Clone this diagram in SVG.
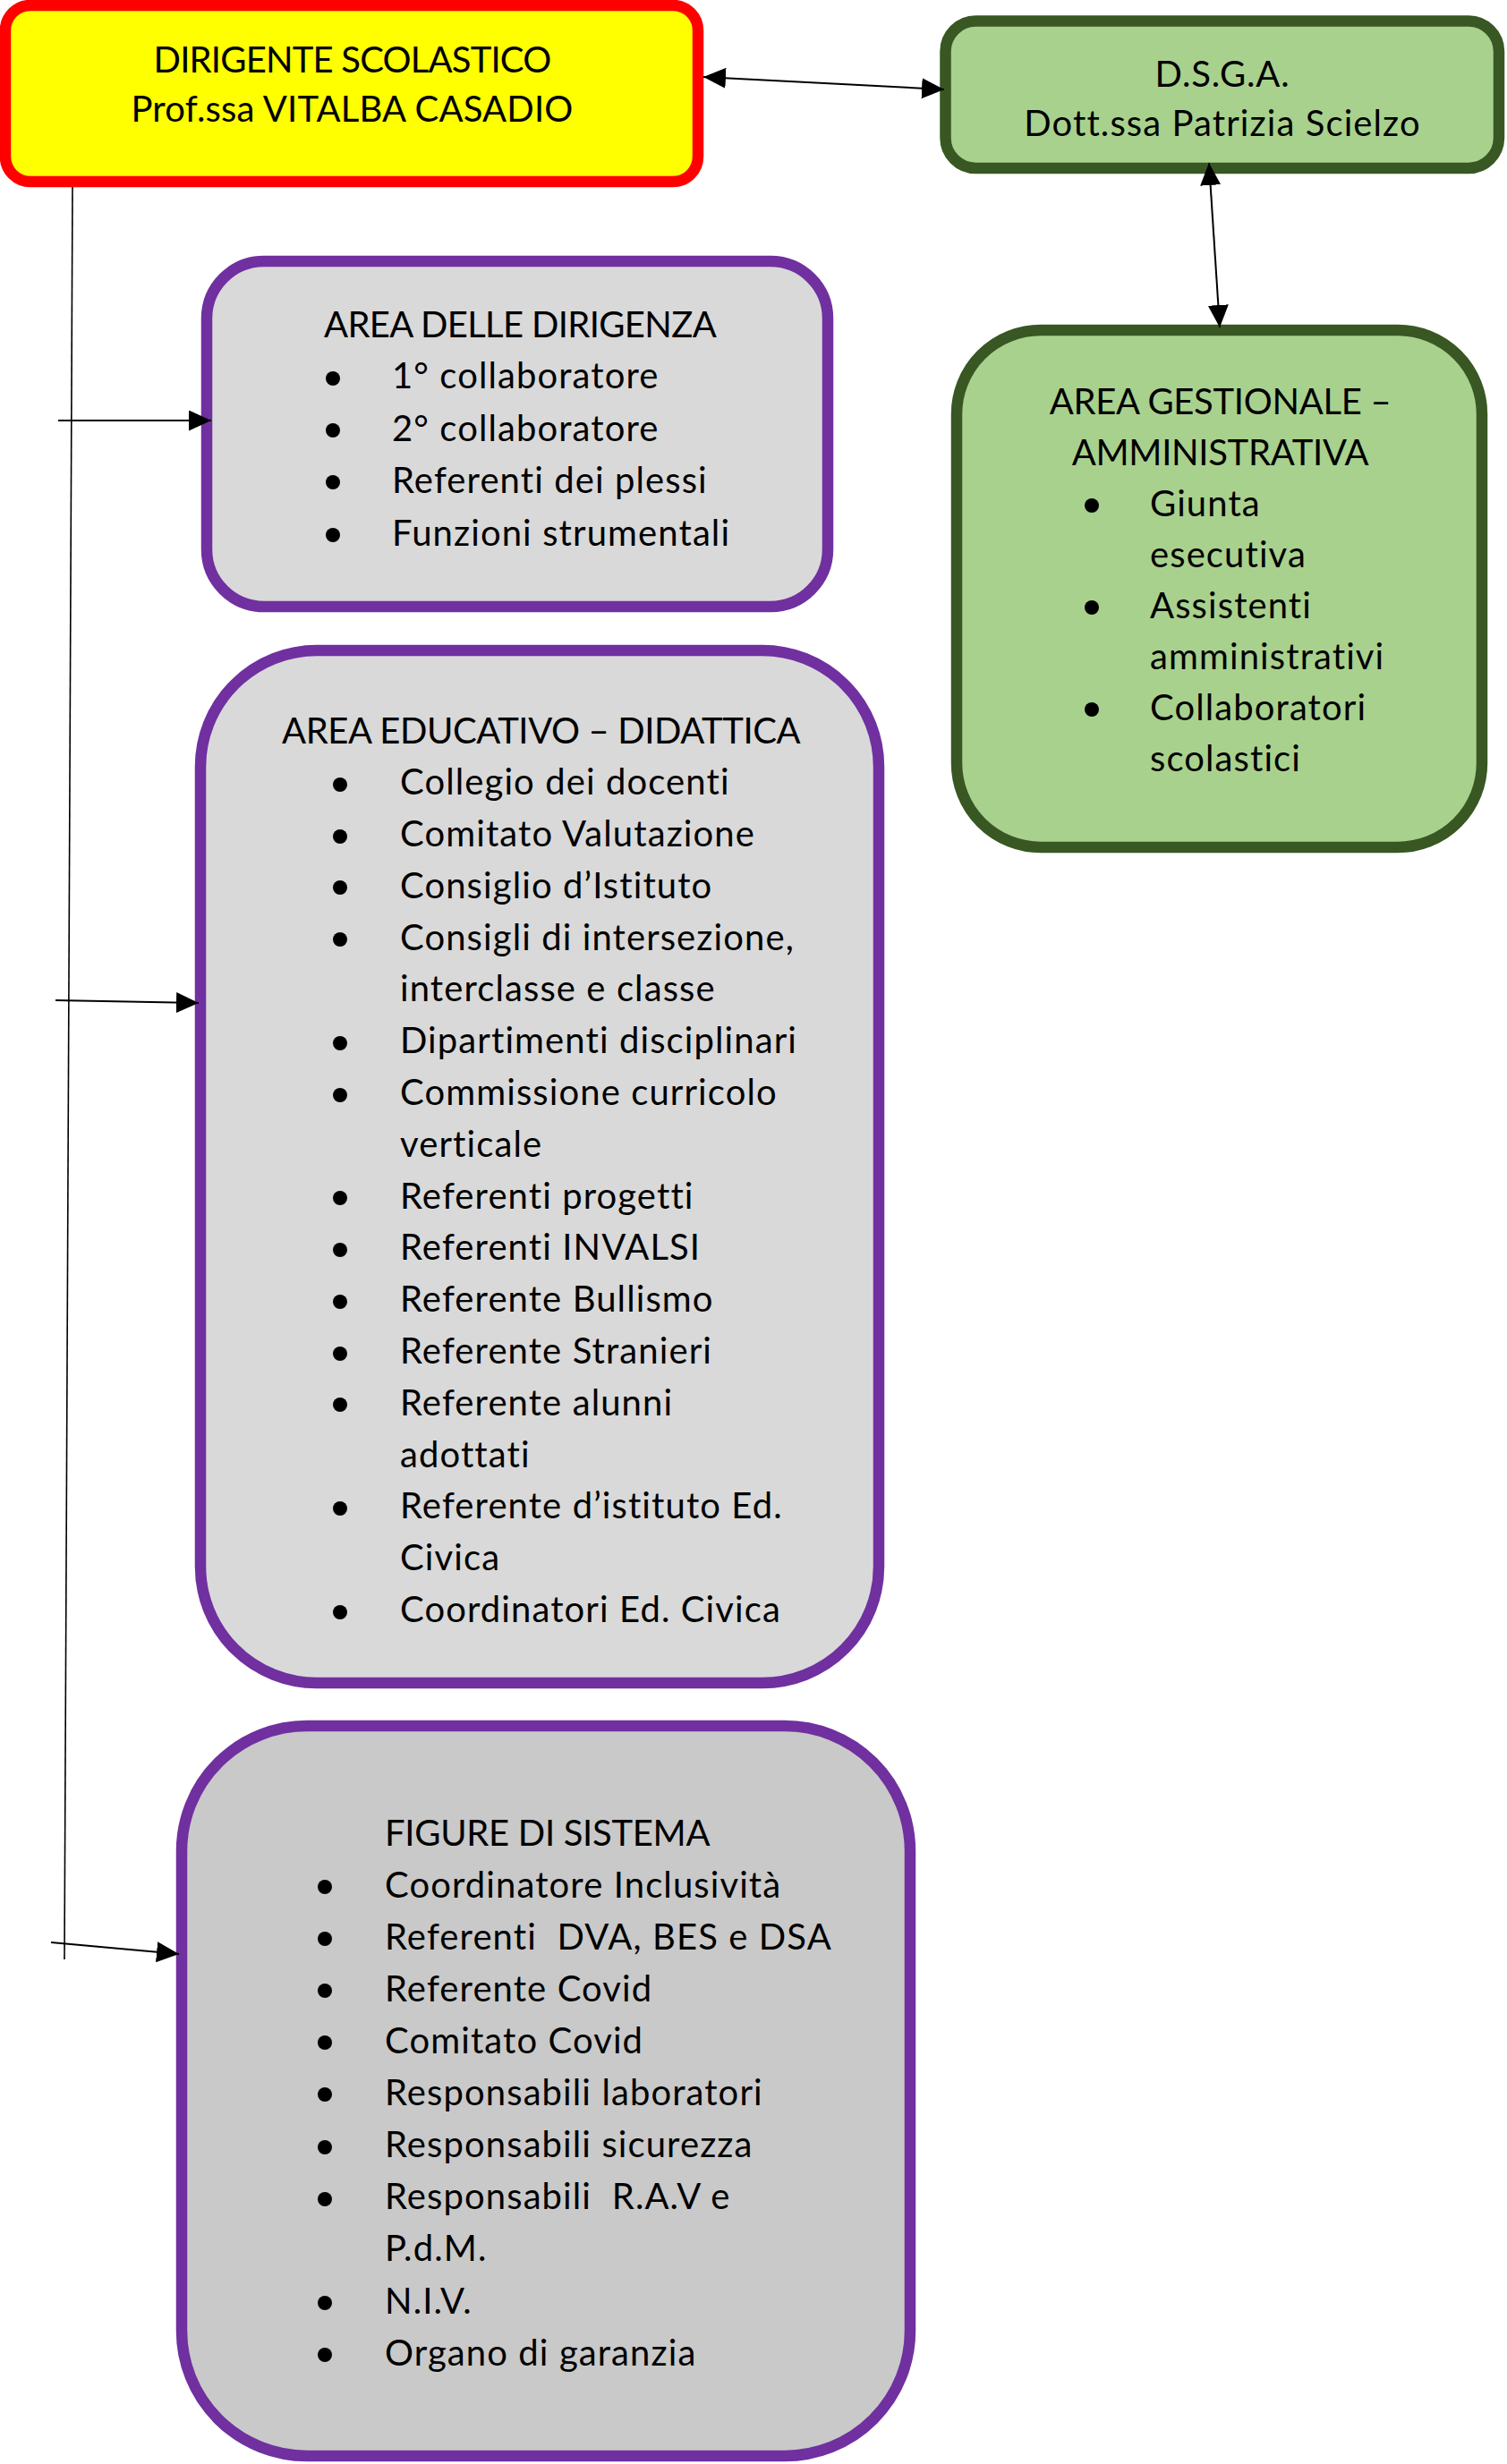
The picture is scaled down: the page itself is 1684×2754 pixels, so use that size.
<svg xmlns="http://www.w3.org/2000/svg" width="1684" height="2754" viewBox="0 0 1684 2754">
<style>
text{font-family:Lato,"Noto Sans","Liberation Sans",sans-serif;font-size:40px;fill:#000;font-variant-ligatures:none;letter-spacing:1.1px}
.c{text-anchor:middle}
.cap{letter-spacing:-0.3px}
.box{stroke-width:12.5}
.purple{stroke:#7030A0}
.green{fill:#A9D18E;stroke:#385723}
.conn{stroke:#000;fill:none}
.b{fill:#000}
</style>
<defs>
<marker id="ah" viewBox="0 0 25 23" refX="25" refY="11.5" markerWidth="25" markerHeight="23" markerUnits="userSpaceOnUse" orient="auto-start-reverse">
<path d="M0,0 L25,11.5 L0,23 Z" fill="#000"/>
</marker>
</defs>
<rect width="1684" height="2754" fill="#fff"/>

<g id="dirigente">
<rect class="box" x="6" y="6" width="774" height="197" rx="28" fill="#FFFF00" stroke="#FF0000"/>
<text class="c" x="393.5" y="81" style="letter-spacing:-0.8px">DIRIGENTE SCOLASTICO</text>
<text class="c" x="393.5" y="136" style="letter-spacing:0.2px">Prof.ssa VITALBA CASADIO</text>
</g>

<g id="dsga">
<rect class="box green" x="1056.5" y="23.5" width="618.5" height="164.5" rx="34"/>
<text class="c" x="1366" y="97" style="letter-spacing:0.8px">D.S.G.A.</text>
<text class="c" x="1366" y="152">Dott.ssa Patrizia Scielzo</text>
</g>

<g id="area-dirigenza">
<rect class="box purple" x="231" y="292" width="694" height="386" rx="64" fill="#D9D9D9"/>
<text x="362" y="377" style="letter-spacing:-0.65px">AREA DELLE DIRIGENZA</text>
<circle class="b" cx="372" cy="423" r="8"/><text x="438" y="434">1° collaboratore</text>
<circle class="b" cx="372" cy="481" r="8"/><text x="438" y="492.5">2° collaboratore</text>
<circle class="b" cx="372" cy="539" r="8"/><text x="438" y="551">Referenti dei plessi</text>
<circle class="b" cx="372" cy="598" r="8"/><text x="438" y="609.5">Funzioni strumentali</text>
</g>

<g id="area-gestionale">
<rect class="box green" x="1069" y="369" width="587" height="578" rx="94"/>
<text class="c cap" x="1363.5" y="462.5">AREA GESTIONALE –</text>
<text class="c cap" x="1363.5" y="519.5">AMMINISTRATIVA</text>
<circle class="b" cx="1220" cy="565" r="8"/><text x="1285" y="576.5">Giunta</text>
<text x="1285" y="633.5">esecutiva</text>
<circle class="b" cx="1220" cy="679" r="8"/><text x="1285" y="690.5">Assistenti</text>
<text x="1285" y="747.5">amministrativi</text>
<circle class="b" cx="1220" cy="793" r="8"/><text x="1285" y="804.5">Collaboratori</text>
<text x="1285" y="861.5">scolastici</text>
</g>

<g id="area-educativo">
<rect class="box purple" x="224" y="727" width="758" height="1154" rx="130" fill="#D9D9D9"/>
<text x="315" y="831" style="letter-spacing:-0.4px">AREA EDUCATIVO – DIDATTICA</text>
<circle class="b" cx="380" cy="877" r="8"/><text x="447" y="888">Collegio dei docenti</text>
<circle class="b" cx="380" cy="935" r="8"/><text x="447" y="946">Comitato Valutazione</text>
<circle class="b" cx="380" cy="992" r="8"/><text x="447" y="1003.5">Consiglio d’Istituto</text>
<circle class="b" cx="380" cy="1050" r="8"/><text x="447" y="1061.5">Consigli di intersezione,</text>
<text x="447" y="1119">interclasse e classe</text>
<circle class="b" cx="380" cy="1166" r="8"/><text x="447" y="1177">Dipartimenti disciplinari</text>
<circle class="b" cx="380" cy="1224" r="8"/><text x="447" y="1235">Commissione curricolo</text>
<text x="447" y="1292.5">verticale</text>
<circle class="b" cx="380" cy="1339" r="8"/><text x="447" y="1350.5">Referenti progetti</text>
<circle class="b" cx="380" cy="1397" r="8"/><text x="447" y="1408">Referenti INVALSI</text>
<circle class="b" cx="380" cy="1455" r="8"/><text x="447" y="1466">Referente Bullismo</text>
<circle class="b" cx="380" cy="1513" r="8"/><text x="447" y="1524">Referente Stranieri</text>
<circle class="b" cx="380" cy="1570" r="8"/><text x="447" y="1581.5">Referente alunni</text>
<text x="447" y="1639.5">adottati</text>
<circle class="b" cx="380" cy="1686" r="8"/><text x="447" y="1697">Referente d’istituto Ed.</text>
<text x="447" y="1755">Civica</text>
<circle class="b" cx="380" cy="1802" r="8"/><text x="447" y="1813">Coordinatori Ed. Civica</text>
</g>

<g id="figure-di-sistema">
<rect class="box purple" x="203" y="1929" width="814" height="816" rx="140" fill="#C9C9C9"/>
<text class="cap" x="430" y="2063">FIGURE DI SISTEMA</text>
<circle class="b" cx="363" cy="2109" r="8"/><text x="430" y="2120.5">Coordinatore Inclusività</text>
<circle class="b" cx="363" cy="2167" r="8"/><text x="430" y="2178.5" xml:space="preserve">Referenti  DVA, BES e DSA</text>
<circle class="b" cx="363" cy="2225" r="8"/><text x="430" y="2236.5">Referente Covid</text>
<circle class="b" cx="363" cy="2283" r="8"/><text x="430" y="2294.5">Comitato Covid</text>
<circle class="b" cx="363" cy="2341" r="8"/><text x="430" y="2353">Responsabili laboratori</text>
<circle class="b" cx="363" cy="2400" r="8"/><text x="430" y="2411">Responsabili sicurezza</text>
<circle class="b" cx="363" cy="2458" r="8"/><text x="430" y="2469" xml:space="preserve">Responsabili  R.A.V e</text>
<text x="430" y="2527">P.d.M.</text>
<circle class="b" cx="363" cy="2574" r="8"/><text x="430" y="2585.5">N.I.V.</text>
<circle class="b" cx="363" cy="2632" r="8"/><text x="430" y="2643.5">Organo di garanzia</text>
</g>

<g id="connectors">
<line class="conn" x1="786" y1="86" x2="1055" y2="100" stroke-width="2" marker-start="url(#ah)" marker-end="url(#ah)"/>
<line class="conn" x1="1351" y1="182" x2="1363" y2="366" stroke-width="2" marker-start="url(#ah)" marker-end="url(#ah)"/>
<line class="conn" x1="81" y1="209" x2="72" y2="2190" stroke-width="1.6"/>
<line class="conn" x1="65" y1="470" x2="236" y2="470" stroke-width="2" marker-end="url(#ah)"/>
<line class="conn" x1="62" y1="1118" x2="222" y2="1121" stroke-width="2" marker-end="url(#ah)"/>
<line class="conn" x1="57" y1="2171" x2="200" y2="2184" stroke-width="2" marker-end="url(#ah)"/>
</g>
</svg>
